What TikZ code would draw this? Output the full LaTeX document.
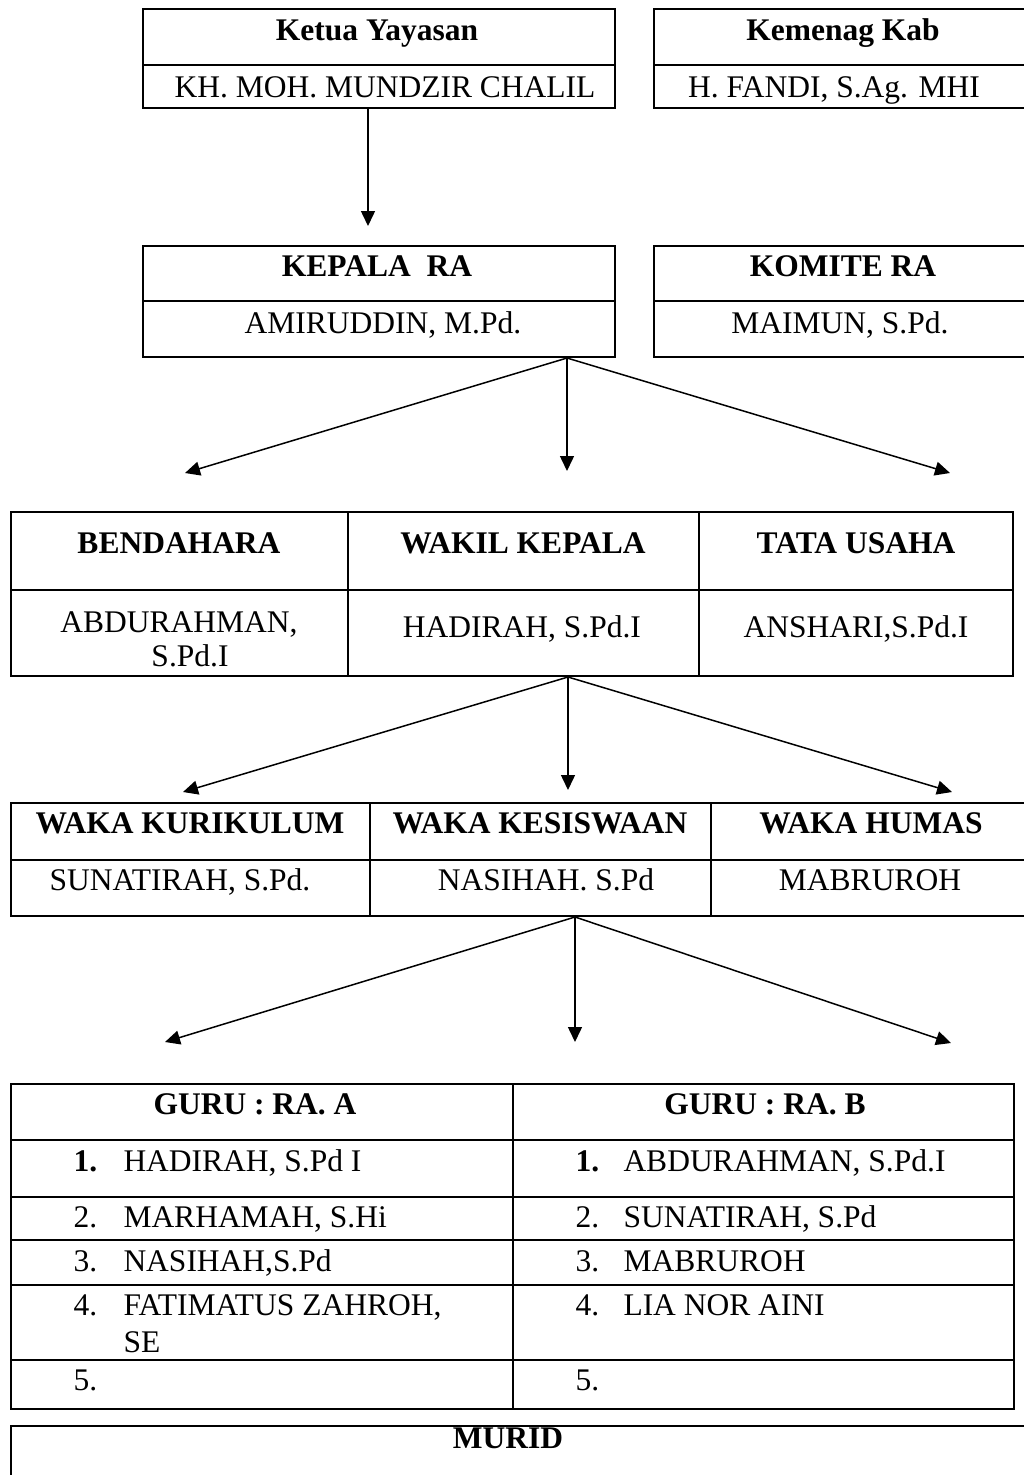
\documentclass[tikz,border=0pt]{standalone}
\usepackage{fontspec}
\setmainfont{Liberation Serif}
\usepackage{tikz}
\usetikzlibrary{positioning,fit,arrows.meta}

\begin{document}
\begin{tikzpicture}[x=0.4pt, y=-0.4pt, >={Triangle[length=6pt,width=5.6pt]},
    font=\fontsize{12.6pt}{15pt}\selectfont,
    box/.style={draw, line width=0.8pt, inner sep=0pt},
    rule/.style={line width=0.8pt},
    txt/.style={anchor=base, inner sep=0pt},
    hd/.style={txt, font=\fontsize{12.6pt}{15pt}\selectfont\bfseries},
    item/.style={anchor=base west, inner sep=0pt},
    link/.style={->, line width=0.6pt}]
    \useasboundingbox (0,0) rectangle (1024,1475);
    \clip (0,0) rectangle (1024,1475);

    % yayasan & kemenag
    \node[box, fit={(143,9) (615,108)}] (ketua) {};
    \draw[rule] (143,65) -- (615,65);
    \node[hd] (ketuaH) at (377,40) {Ketua Yayasan};
    \node[txt] (ketuaN) at (385,97) {KH. MOH. MUNDZIR CHALIL};

    \node[box, fit={(654,9) (1032,108)}] (kemenag) {};
    \draw[rule] (654,65) -- (1032,65);
    \node[hd] (kemenagH) at (843,40) {Kemenag Kab};
    \node[txt] (kemenagN) at (834,97) {H. FANDI, S.Ag. MHI};

    % kepala & komite
    \node[box, fit={(143,246) (615,357)}] (kepala) {};
    \draw[rule] (143,301) -- (615,301);
    \node[hd] (kepalaH) at (377,276) {KEPALA\ \ RA};
    \node[txt] (kepalaN) at (383,333) {AMIRUDDIN, M.Pd.};

    \node[box, fit={(654,246) (1032,357)}] (komite) {};
    \draw[rule] (654,301) -- (1032,301);
    \node[hd] (komiteH) at (843,276) {KOMITE RA};
    \node[txt] (komiteN) at (840,333) {MAIMUN, S.Pd.};

    \coordinate (t0) at (368,226);
    \draw[link] (ketua.south -| t0) -- (t0);

    \coordinate (t11) at (185,473);
    \coordinate (t12) at (567,471);
    \coordinate (t13) at (950,473);
    \foreach \t in {t11,t12,t13}
        \draw[link] (kepala.south -| t12) -- (\t);

    % bendahara / wakil / tu
    \node[box, fit={(11,512) (1013,676)}] (staf) {};
    \draw[rule] (11,590) -- (1013,590);
    \draw[rule] (348,512) -- (348,676);
    \draw[rule] (699,512) -- (699,676);
    \node[hd] (bendH) at (179,553) {BENDAHARA};
    \node[hd] (wakilH) at (523,553) {WAKIL KEPALA};
    \node[hd] (tuH) at (856,553) {TATA USAHA};
    \node[txt] (bendN) at (179,632) {ABDURAHMAN,};
    \node[txt] (bendM) at (190,666) {S.Pd.I};
    \node[txt] (wakilN) at (522,637) {HADIRAH, S.Pd.I};
    \node[txt] (tuN) at (856,637) {ANSHARI,S.Pd.I};

    \coordinate (t21) at (183,792);
    \coordinate (t22) at (568,790);
    \coordinate (t23) at (952,792);
    \foreach \t in {t21,t22,t23}
        \draw[link] (staf.south -| t22) -- (\t);

    % waka
    \node[box, fit={(11,803) (1031,916)}] (waka) {};
    \draw[rule] (11,860) -- (1031,860);
    \draw[rule] (370,803) -- (370,916);
    \draw[rule] (711,803) -- (711,916);
    \node[hd] (kurH) at (190,833) {WAKA KURIKULUM};
    \node[hd] (kesH) at (540,833) {WAKA KESISWAAN};
    \node[hd] (humH) at (871,833) {WAKA HUMAS};
    \node[txt] (kurN) at (180,890) {SUNATIRAH, S.Pd.};
    \node[txt] (kesN) at (546,890) {NASIHAH. S.Pd};
    \node[txt] (humN) at (870,890) {MABRUROH};

    \coordinate (t31) at (165,1042);
    \coordinate (t32) at (575,1042);
    \coordinate (t33) at (951,1043);
    \foreach \t in {t31,t32,t33}
        \draw[link] (waka.south -| t32) -- (\t);

    % guru
    \node[box, fit={(11,1084) (1014,1409)}] (guru) {};
    \draw[rule] (513,1084) -- (513,1409);
    \draw[rule] (11,1140) -- (1014,1140);
    \draw[rule] (11,1197) -- (1014,1197);
    \draw[rule] (11,1240) -- (1014,1240);
    \draw[rule] (11,1285) -- (1014,1285);
    \draw[rule] (11,1360) -- (1014,1360);
    \node[hd] (guruA) at (255,1114) {GURU : RA. A};
    \node[hd] (guruB) at (765,1114) {GURU : RA. B};

    \node[item, font=\fontsize{12.6pt}{15pt}\selectfont\bfseries] (a1) at (73,1171) {1.};
    \node[item] (a1n) at (123,1171) {HADIRAH, S.Pd I};
    \node[item] (a2) at (73,1227) {2.};
    \node[item] (a2n) at (123,1227) {MARHAMAH, S.Hi};
    \node[item] (a3) at (73,1271) {3.};
    \node[item] (a3n) at (123,1271) {NASIHAH,S.Pd};
    \node[item] (a4) at (73,1315) {4.};
    \node[item] (a4n) at (123,1315) {FATIMATUS ZAHROH,};
    \node[item] (a4m) at (123,1352) {SE};
    \node[item] (a5) at (73,1390) {5.};

    \node[item, font=\fontsize{12.6pt}{15pt}\selectfont\bfseries] (b1) at (575,1171) {1.};
    \node[item] (b1n) at (623,1171) {ABDURAHMAN, S.Pd.I};
    \node[item] (b2) at (575,1227) {2.};
    \node[item] (b2n) at (623,1227) {SUNATIRAH, S.Pd};
    \node[item] (b3) at (575,1271) {3.};
    \node[item] (b3n) at (623,1271) {MABRUROH};
    \node[item] (b4) at (575,1315) {4.};
    \node[item] (b4n) at (623,1315) {LIA NOR AINI};
    \node[item] (b5) at (575,1390) {5.};

    % murid
    \node[box, fit={(11,1426) (1031,1495)}] (murid) {};
    \node[hd] (muridH) at (508,1448) {MURID};
\end{tikzpicture}
\end{document}
